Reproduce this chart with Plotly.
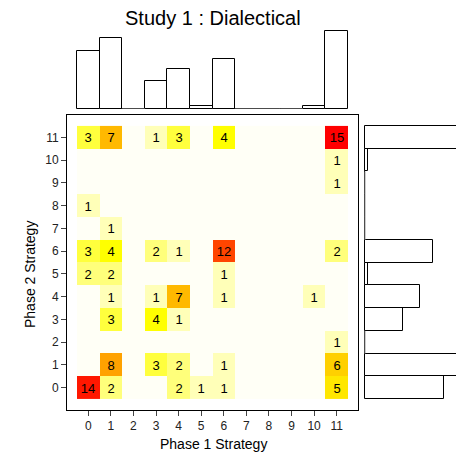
import colorsys
import numpy as np
import plotly.graph_objects as go

# Strategy codes used on both axes
strategies = list(range(12))
tick_labels = [str(s) for s in strategies]

# Cross-tab counts: one list per Phase 2 strategy (row), entries by Phase 1 strategy (column)
phase2_0 = [14, 2, 0, 0, 2, 1, 1, 0, 0, 0, 0, 5]
phase2_1 = [0, 8, 0, 3, 2, 0, 1, 0, 0, 0, 0, 6]
phase2_2 = [0, 0, 0, 0, 0, 0, 0, 0, 0, 0, 0, 1]
phase2_3 = [0, 3, 0, 4, 1, 0, 0, 0, 0, 0, 0, 0]
phase2_4 = [0, 1, 0, 1, 7, 0, 1, 0, 0, 0, 1, 0]
phase2_5 = [2, 2, 0, 0, 0, 0, 1, 0, 0, 0, 0, 0]
phase2_6 = [3, 4, 0, 2, 1, 0, 12, 0, 0, 0, 0, 2]
phase2_7 = [0, 1, 0, 0, 0, 0, 0, 0, 0, 0, 0, 0]
phase2_8 = [1, 0, 0, 0, 0, 0, 0, 0, 0, 0, 0, 0]
phase2_9 = [0, 0, 0, 0, 0, 0, 0, 0, 0, 0, 0, 1]
phase2_10 = [0, 0, 0, 0, 0, 0, 0, 0, 0, 0, 0, 1]
phase2_11 = [3, 7, 0, 1, 3, 0, 4, 0, 0, 0, 0, 15]

counts = np.array([phase2_0, phase2_1, phase2_2, phase2_3, phase2_4, phase2_5,
                   phase2_6, phase2_7, phase2_8, phase2_9, phase2_10, phase2_11])

# Marginal totals by Phase 1 strategy (shown on both margins)
phase1_totals = counts.sum(axis=0)

W = H = 456
FONT = "Liberation Sans, Arial, Helvetica, sans-serif"


def px_x(p):
    return p / W


def px_y(p):
    return 1 - p / H


# Heat palette: cream -> yellow by saturation, then yellow -> red by hue
zmax = 15
colorscale = []
for v in range(zmax + 1):
    if v <= 4:
        h, s = 60 / 360, 0.035 + 0.965 * v / 4
    else:
        h, s = (60 * (zmax - v) / 11) / 360, 1.0
    r, g, b = colorsys.hsv_to_rgb(h, s, 1.0)
    colorscale.append([v / zmax, f"rgb({int(r*255)},{int(g*255)},{int(b*255)})"])

cell_text = [[str(c) if c > 0 else "" for c in row] for row in counts]

fig = go.Figure()

fig.add_trace(go.Heatmap(
    x=strategies, y=strategies, z=counts,
    zmin=0, zmax=zmax, colorscale=colorscale, showscale=False,
    text=cell_text, texttemplate="%{text}",
    textfont=dict(family=FONT, size=13, color="black"),
    hoverinfo="skip", xaxis="x", yaxis="y",
))

# Top marginal histogram
fig.add_trace(go.Bar(
    x=strategies, y=phase1_totals, width=1,
    marker=dict(color="white", line=dict(color="black", width=1)),
    xaxis="x2", yaxis="y2", hoverinfo="skip",
))
zx, zy = [], []
for s, t in zip(strategies, phase1_totals):
    if t == 0:
        zx += [s - 0.5, s + 0.5, None]
        zy += [0, 0, None]
fig.add_trace(go.Scatter(
    x=zx, y=zy, mode="lines", line=dict(color="#999999", width=1),
    xaxis="x2", yaxis="y2", hoverinfo="skip", cliponaxis=False,
))

# Right marginal histogram
fig.add_trace(go.Bar(
    x=phase1_totals, y=strategies, width=1, orientation="h",
    marker=dict(color="white", line=dict(color="black", width=1)),
    xaxis="x3", yaxis="y3", hoverinfo="skip",
))
rx, ry = [], []
for s, t in zip(strategies, phase1_totals):
    if t == 0:
        rx += [0, 0, None]
        ry += [s - 0.5, s + 0.5, None]
fig.add_trace(go.Scatter(
    x=rx, y=ry, mode="lines", line=dict(color="#999999", width=1),
    xaxis="x3", yaxis="y3", hoverinfo="skip", cliponaxis=False,
))

x_dom = [px_x(67), px_x(358)]
y_dom = [px_y(410), px_y(115)]
x_rng = [-0.943, 11.943]
y_rng = [-0.98, 11.98]

tick_style = dict(
    tickmode="array", tickvals=strategies, ticktext=tick_labels,
    ticks="outside", ticklen=5, tickwidth=1, tickcolor="#444444",
    tickfont=dict(family=FONT, size=12, color="#222222"),
    showline=True, mirror=True, linecolor="black", linewidth=1,
    showgrid=False, zeroline=False, fixedrange=True,
)

hidden = dict(visible=False, showgrid=False, zeroline=False, fixedrange=True)

# right margin: 3.42 px per count, bars start 1 px inside the domain
r_scale = 3.42
fig.update_layout(
    width=W, height=H,
    margin=dict(l=0, r=0, t=0, b=0),
    paper_bgcolor="white", plot_bgcolor="white",
    showlegend=False, bargap=0,
    xaxis=dict(domain=x_dom, range=x_rng, anchor="y", **tick_style),
    yaxis=dict(domain=y_dom, range=y_rng, anchor="x", **tick_style),
    xaxis2=dict(domain=x_dom, range=x_rng, anchor="y2", **hidden),
    yaxis2=dict(domain=[px_y(109), px_y(25)], range=[0, 84 / 2.52], anchor="x2", **hidden),
    xaxis3=dict(domain=[px_x(364), 1], range=[-1 / r_scale, 91 / r_scale], anchor="y3", **hidden),
    yaxis3=dict(domain=y_dom, range=y_rng, anchor="x3", **hidden),
    annotations=[
        dict(text="Study 1 : Dialectical", x=px_x(212.5), y=px_y(18),
             xref="paper", yref="paper", showarrow=False,
             xanchor="center", yanchor="middle",
             font=dict(family=FONT, size=20, color="black")),
        dict(text="Phase 1 Strategy", x=px_x(213), y=px_y(444),
             xref="paper", yref="paper", showarrow=False,
             xanchor="center", yanchor="middle",
             font=dict(family=FONT, size=14, color="black")),
        dict(text="Phase 2 Strategy", x=px_x(30), y=px_y(275),
             xref="paper", yref="paper", showarrow=False, textangle=-90,
             xanchor="center", yanchor="middle",
             font=dict(family=FONT, size=14, color="black")),
    ],
)

fig.write_html("out.html")
